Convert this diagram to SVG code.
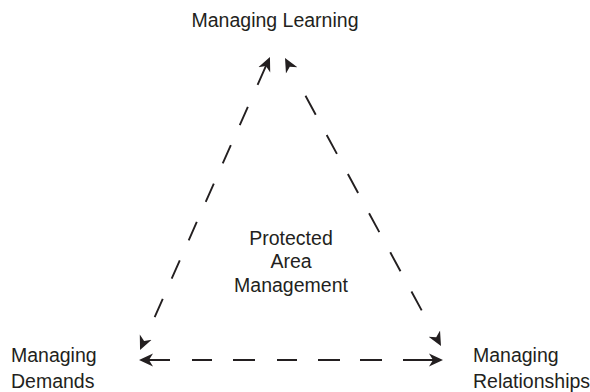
<svg xmlns="http://www.w3.org/2000/svg" width="590" height="392" viewBox="0 0 590 392">
  <style>
    .label { font-family: "Liberation Sans", Arial, sans-serif; font-size: 19.5px; fill: #231f20; }
    .mid { text-anchor: middle; }
    .link { fill: none; stroke: #231f20; stroke-width: 1.9; stroke-linecap: butt; }
  </style>
  <defs>
    <!-- notched arrowhead; tip sits 9px beyond the path end -->
    <marker id="head" viewBox="0 -7 15 14" markerWidth="15" markerHeight="14" refX="5" refY="0"
            markerUnits="userSpaceOnUse" orient="auto-start-reverse">
      <path d="M0,-6.5 L14,0 L0,6.5 L4,0 Z" fill="#231f20"/>
    </marker>
  </defs>
  <rect width="590" height="392" fill="#ffffff"/>

  <g id="connectors">
    <!-- Learning <-> Demands -->
    <path class="link" d="M266.3,65.2 L143.7,341.8" marker-start="url(#head)" marker-end="url(#head)"
          stroke-dasharray="21.5 24 20 22 20 22 20 22 20 22 20 22 20 100"/>
    <!-- Learning <-> Relationships -->
    <path class="link" d="M289.3,65.9 L436.7,338.1" marker-start="url(#head)" marker-end="url(#head)"
          stroke-dasharray="0 34 21.5 23 21.5 23 21.5 23 21.5 23 21.5 23 21.5 100"/>
    <!-- Demands <-> Relationships -->
    <path class="link" d="M148,360 L434,360" marker-start="url(#head)" marker-end="url(#head)"
          stroke-dasharray="22 22 20 21 22 22 20 21 22 20 22 21 40"/>
  </g>

  <g id="managing-learning">
    <text class="label mid" x="275" y="27">Managing Learning</text>
  </g>
  <g id="protected-area-management">
    <text class="label mid" x="291" y="245">Protected</text>
    <text class="label mid" x="291" y="268">Area</text>
    <text class="label mid" x="291" y="292">Management</text>
  </g>
  <g id="managing-demands">
    <text class="label" x="11" y="362">Managing</text>
    <text class="label" x="11" y="388">Demands</text>
  </g>
  <g id="managing-relationships">
    <text class="label" x="473" y="362">Managing</text>
    <text class="label" x="473" y="388">Relationships</text>
  </g>
</svg>
